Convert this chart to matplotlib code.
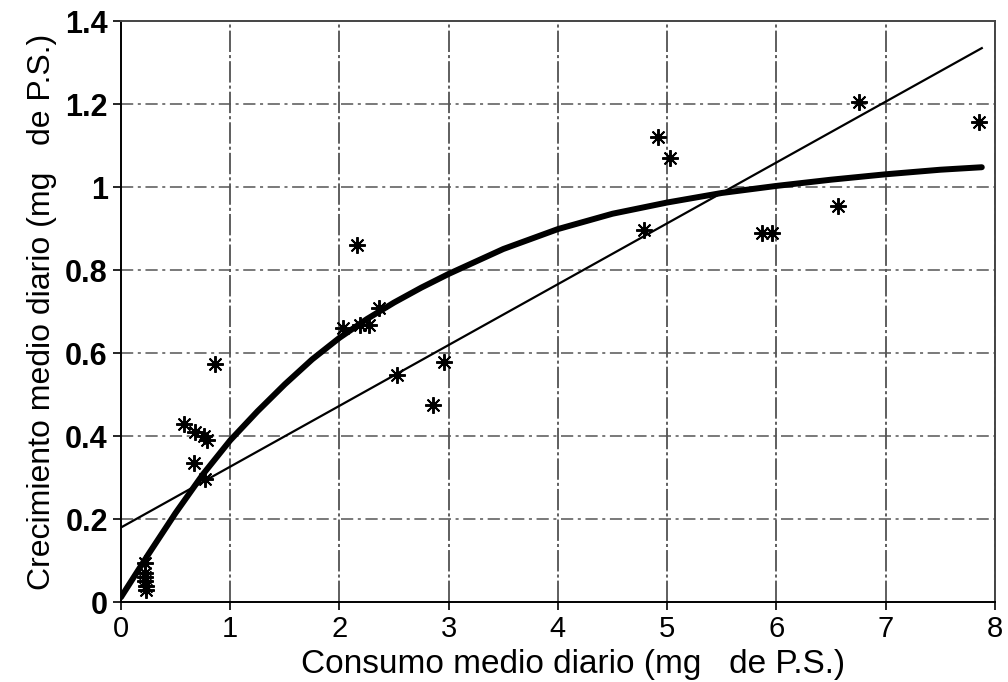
import matplotlib.pyplot as plt

# observed daily consumption vs daily growth
consumo = [0.22, 0.22, 0.22, 0.22, 0.23, 0.23,
           0.58, 0.68, 0.76, 0.79, 0.67, 0.77, 0.86,
           2.03, 2.19, 2.27, 2.16, 2.36, 2.53, 2.96, 2.86,
           4.79, 4.92, 5.03, 5.87, 5.96, 6.56, 6.76, 7.85]
crecimiento = [0.094, 0.07, 0.06, 0.05, 0.04, 0.03,
               0.43, 0.41, 0.40, 0.39, 0.335, 0.296, 0.575,
               0.66, 0.667, 0.667, 0.86, 0.71, 0.547, 0.578, 0.475,
               0.896, 1.12, 1.07, 0.889, 0.89, 0.954, 1.205, 1.157]

# linear fit (end points)
lineal_x = [0.0, 7.88]
lineal_y = [0.18, 1.335]

# saturating fit
curva_x = [0.0, 0.25, 0.5, 0.75, 1.0, 1.25, 1.5, 1.75, 2.0, 2.25, 2.5,
           2.75, 3.0, 3.5, 4.0, 4.5, 5.0, 5.5, 6.0, 6.5, 7.0, 7.5, 7.88]
curva_y = [0.012, 0.115, 0.215, 0.308, 0.39, 0.46, 0.525, 0.585, 0.637,
           0.682, 0.722, 0.758, 0.791, 0.851, 0.899, 0.936, 0.963, 0.986,
           1.003, 1.018, 1.031, 1.042, 1.048]

x_ticks = [0, 1, 2, 3, 4, 5, 6, 7, 8]
y_ticks = [0, 0.2, 0.4, 0.6, 0.8, 1.0, 1.2, 1.4]
y_labels = ["0", "0.2", "0.4", "0.6", "0.8", "1", "1.2", "1.4"]

plt.rcParams["font.family"] = ["Liberation Sans", "DejaVu Sans"]

fig = plt.figure(figsize=(10.08, 6.82), dpi=100)
ax = fig.add_axes([0.120, 0.117, 0.867, 0.852])

ax.set_xlim(0, 8)
ax.set_ylim(0, 1.4)

for x in x_ticks[1:]:
    ax.axvline(x, color="#333333", lw=1.1, ls=(0, (14, 2, 2, 2)), zorder=1)
for y in y_ticks[1:-1]:
    ax.axhline(y, color="#555555", lw=1.1, ls=(0, (8, 3, 2, 3)), zorder=1)

ax.plot(lineal_x, lineal_y, color="black", lw=1.6, zorder=3)
ax.plot(curva_x, curva_y, color="black", lw=4.3, solid_capstyle="round",
        solid_joinstyle="round", zorder=3)
ax.plot(consumo, crecimiento, ls="none", marker=(8, 2, 0), ms=12,
        mec="black", mew=1.4, zorder=4)

ax.set_xticks(x_ticks)
ax.set_yticks(y_ticks)
ax.set_yticklabels(y_labels)
ax.tick_params(axis="both", direction="out", length=6, width=1.2,
               colors="black")
ax.tick_params(axis="x", labelsize=21)
ax.tick_params(axis="y", labelsize=22)
for lab in ax.get_yticklabels():
    lab.set_fontweight("bold")

for side in ["left", "bottom", "top", "right"]:
    ax.spines[side].set_linewidth(1.4)
ax.spines["top"].set_color("#444444")
ax.spines["right"].set_color("#444444")

ax.set_xlabel("Consumo medio diario (mg   de P.S.)", fontsize=24, labelpad=4)
ax.xaxis.label.set_x(0.517)
ax.set_ylabel("Crecimiento medio diario (mg   de P.S.)", fontsize=23,
              labelpad=6)

fig.savefig("out.png", dpi=100)
